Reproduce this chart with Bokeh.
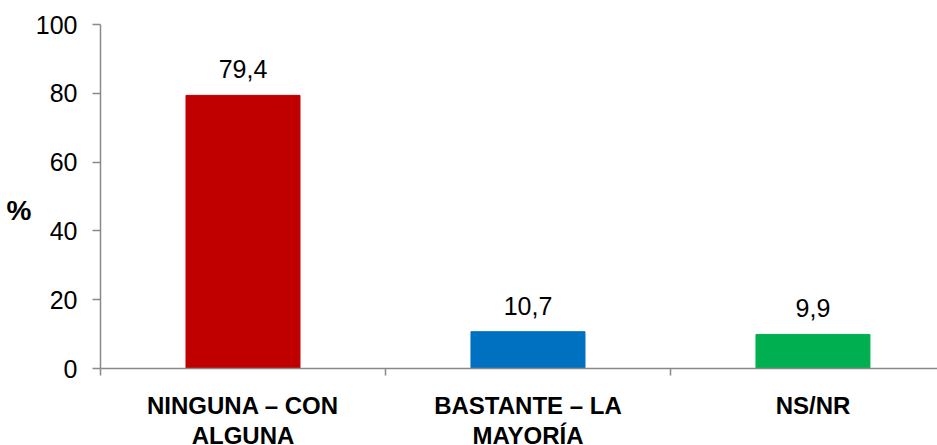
from bokeh.plotting import figure
from bokeh.layouts import column
from bokeh.models import ColumnDataSource, FixedTicker, LinearAxis, LabelSet, Range1d
from bokeh.core.properties import value
from bokeh.embed import file_html
from bokeh.resources import INLINE

categories = ["NINGUNA – CON\nALGUNA", "BASTANTE – LA\nMAYORÍA", "NS/NR"]
values = [79.4, 10.7, 9.9]
colors = ["#C00000", "#0070C0", "#00B050"]
y_ticks = [0, 20, 40, 60, 80, 100]
y_title = "%"

FONT = "Liberation Sans"
AXIS_GREY = "#898989"

centers = [i + 0.5 for i in range(len(categories))]
labels = [f"{v:.1f}".replace(".", ",") for v in values]

src = ColumnDataSource(dict(x=centers, top=values, color=colors, label=labels))
x_range = Range1d(0, 2.937)

# ---- main chart -------------------------------------------------------
p = figure(width=937, height=382, output_backend="svg", toolbar_location=None,
           x_range=x_range, y_range=Range1d(0, 100),
           x_axis_type=None, min_border_left=100, min_border_right=0,
           min_border_top=24, min_border_bottom=14)
p.outline_line_color = None
p.grid.visible = False

p.vbar(x="x", top="top", bottom=0, width=0.4, color="color", source=src)

# value labels above the bars
p.add_layout(LabelSet(x="x", y="top", text="label", source=src, text_align="center",
                      text_baseline="alphabetic", y_offset=17, text_font=value(FONT),
                      text_font_size="25px", text_color="#000000"))

# y axis
ya = p.yaxis[0]
ya.ticker = FixedTicker(ticks=y_ticks)
ya.axis_line_color = AXIS_GREY
ya.axis_line_width = 1.5
ya.major_tick_line_color = AXIS_GREY
ya.major_tick_line_width = 1.5
ya.major_tick_in = 0
ya.major_tick_out = 8
ya.minor_tick_line_color = None
ya.major_label_text_font = FONT
ya.major_label_text_font_size = "25px"
ya.major_label_text_color = "#000000"
ya.major_label_standoff = 15

# y title as a bare outer axis, so it sits a little below the middle
title_at = 46
yt = LinearAxis(ticker=FixedTicker(ticks=[title_at]),
                major_label_overrides={title_at: y_title})
yt.axis_line_color = None
yt.major_tick_line_color = None
yt.minor_tick_line_color = None
yt.major_label_standoff = -5
yt.major_label_text_font = FONT
yt.major_label_text_font_style = "bold"
yt.major_label_text_font_size = "28px"
yt.major_label_text_color = "#000000"
p.add_layout(yt, "left")

# x axis: category boundary ticks only
bounds = [0, 1, 2, 3]
xb = LinearAxis(ticker=FixedTicker(ticks=bounds),
                major_label_overrides={b: "" for b in bounds})
xb.axis_line_color = AXIS_GREY
xb.axis_line_width = 1.5
xb.major_tick_line_color = AXIS_GREY
xb.major_tick_line_width = 1.5
xb.major_tick_in = 0
xb.major_tick_out = 7
xb.minor_tick_line_color = None
xb.major_label_text_font_size = "1px"
xb.major_label_standoff = 0
p.add_layout(xb, "below")

# ---- category names strip (shares the x range) -------------------------
strip_h = 63
q = figure(width=937, height=strip_h, output_backend="svg", toolbar_location=None,
           x_range=x_range, y_range=Range1d(0, strip_h),
           x_axis_type=None, y_axis_type=None, min_border_left=100,
           min_border_right=0, min_border_top=0, min_border_bottom=0)
q.outline_line_color = None
q.grid.visible = False

rows = dict(x=[], y=[], t=[])
line_y = [40, 10]
for c, name in zip(centers, categories):
    for k, part in enumerate(name.split("\n")):
        rows["x"].append(c)
        rows["y"].append(line_y[k])
        rows["t"].append(part)
q.text(x="x", y="y", text="t", source=ColumnDataSource(rows),
       text_align="center", text_baseline="alphabetic",
       text_font=value(FONT), text_font_style="bold",
       text_font_size="24px", text_color="#000000")

layout = column(p, q, spacing=0)
open("out.html", "w").write(file_html(layout, INLINE))
